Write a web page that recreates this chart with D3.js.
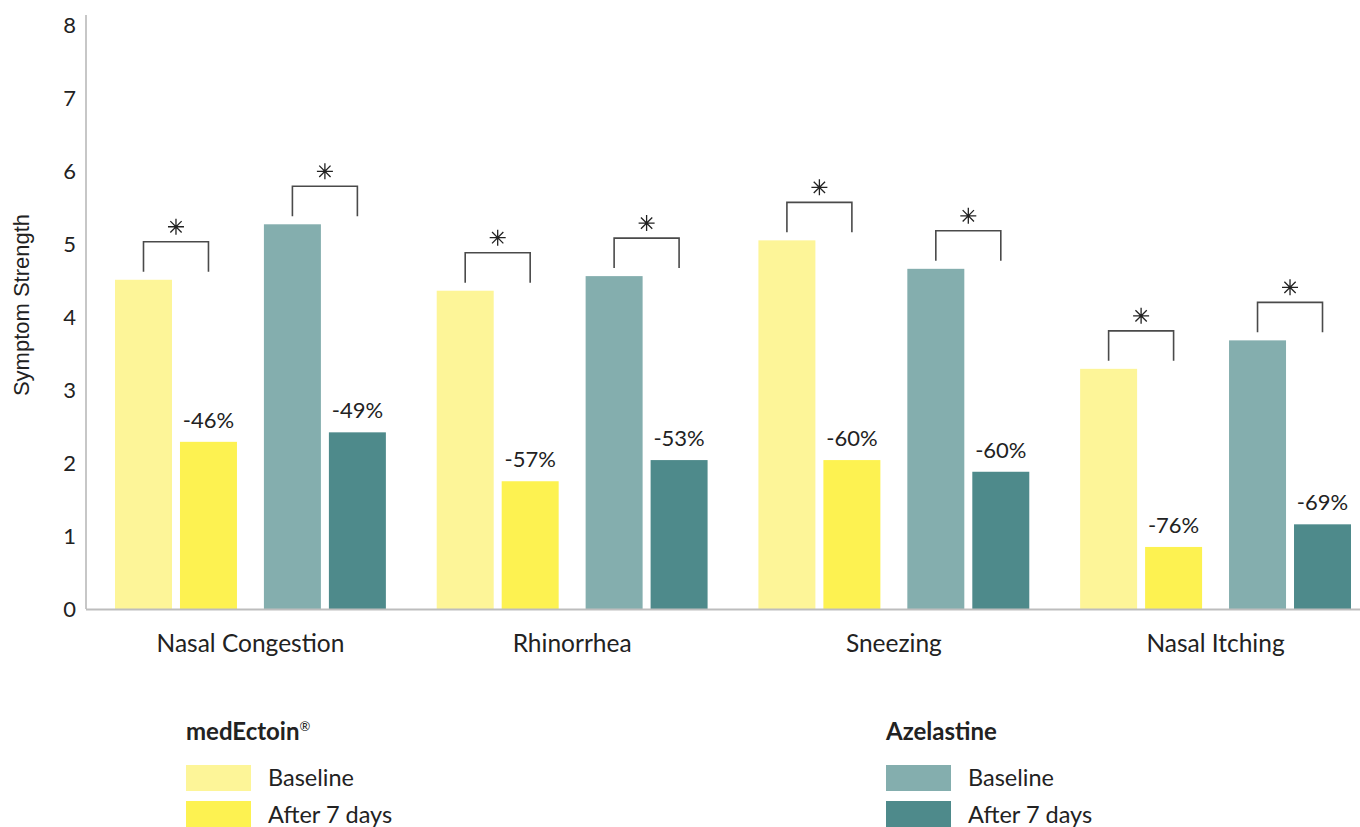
<!DOCTYPE html>
<html>
<head>
<meta charset="utf-8">
<script src="https://cdn.jsdelivr.net/npm/d3@7"></script>
<style>
  body { margin: 0; background: #fff; }
  text { font-family: Lato, "Open Sans", sans-serif; fill: #222; }
</style>
</head>
<body>
<div id="chart"></div>
<script>
const categories = ["Nasal Congestion", "Rhinorrhea", "Sneezing", "Nasal Itching"];
const medBaseline = [4.51, 4.36, 5.05, 3.29];
const medDay7 = [2.29, 1.75, 2.04, 0.85];
const azeBaseline = [5.27, 4.56, 4.66, 3.68];
const azeDay7 = [2.42, 2.04, 1.88, 1.16];
const medChange = ["-46%", "-57%", "-60%", "-76%"];
const azeChange = ["-49%", "-53%", "-60%", "-69%"];
const yTicks = [0, 1, 2, 3, 4, 5, 6, 7, 8];
const drugs = ["medEctoin®", "Azelastine"];
const times = ["Baseline", "After 7 days"];

const colors = {
  "medEctoin®": ["#fdf598", "#fdf251"],
  "Azelastine": ["#84aeae", "#4e8a8b"]
};

const width = 1360, height = 827;
const svg = d3.select("#chart").append("svg")
    .attr("width", width).attr("height", height);

let y = d3.scaleLinear().domain([0, 8]).range([609, 25]);
let x = d3.scaleBand().domain(categories).range([115, 1351]).paddingInner(0.158).paddingOuter(0);
let xDrug = d3.scaleBand().domain(drugs).range([0, x.bandwidth()]).paddingInner(0.181).paddingOuter(0);
let xTime = d3.scaleBand().domain(times).range([0, xDrug.bandwidth()]).paddingInner(0.123).paddingOuter(0);

// build rows from the arrays
let rows = [];
categories.forEach(function(c, i) {
  rows.push({cat: c, drug: drugs[0], base: medBaseline[i], after: medDay7[i], change: medChange[i]});
  rows.push({cat: c, drug: drugs[1], base: azeBaseline[i], after: azeDay7[i], change: azeChange[i]});
});

// y axis
let yAxis = svg.append("g")
    .attr("transform", "translate(86,0)")
    .call(d3.axisLeft(y).tickValues(yTicks).tickSize(0).tickPadding(10));
yAxis.select(".domain").attr("stroke", "#b5b5b5").attr("stroke-width", 1.5)
    .attr("d", "M0," + (y(8) - 10) + "V" + y(0));
yAxis.selectAll(".tick text")
    .style("font-size", "22px").style("font-family", "Lato, sans-serif").attr("fill", "#222");

svg.append("text")
    .attr("transform", "translate(29," + 305 + ") rotate(-90)")
    .attr("text-anchor", "middle")
    .style("font-size", "22px")
    .style("font-family", "'Liberation Sans', Arial, sans-serif")
    .attr("fill", "#555")
    .text("Symptom Strength");

// bars
let g = svg.append("g");
let groups = g.selectAll(".grp").data(rows).enter().append("g")
    .attr("transform", d => "translate(" + (x(d.cat) + xDrug(d.drug)) + ",0)");

groups.append("rect")
    .attr("x", xTime("Baseline"))
    .attr("y", d => y(d.base))
    .attr("width", xTime.bandwidth())
    .attr("height", d => y(0) - y(d.base))
    .attr("fill", d => colors[d.drug][0]);

groups.append("rect")
    .attr("x", xTime("After 7 days"))
    .attr("y", d => y(d.after))
    .attr("width", xTime.bandwidth())
    .attr("height", d => y(0) - y(d.after))
    .attr("fill", d => colors[d.drug][1]);

// percent labels
groups.append("text")
    .attr("x", xTime("After 7 days") + xTime.bandwidth() / 2)
    .attr("y", d => y(d.after) - 14)
    .attr("text-anchor", "middle")
    .style("font-size", "22px")
    .text(d => d.change);

// significance brackets
let bx0 = xTime("Baseline") + xTime.bandwidth() / 2;
let bx1 = xTime("After 7 days") + xTime.bandwidth() / 2;
groups.append("path")
    .attr("fill", "none")
    .attr("stroke", "#4a4a4a")
    .attr("stroke-width", 1.6)
    .attr("d", d => {
      let top = y(d.base) - 38, bot = y(d.base) - 8;
      return "M" + bx0 + "," + bot + "V" + top + "H" + bx1 + "V" + bot;
    });

// asterisks
groups.append("path")
    .attr("fill", "none")
    .attr("stroke", "#222")
    .attr("stroke-width", 1.3)
    .attr("transform", d => "translate(" + ((bx0 + bx1) / 2) + "," + (y(d.base) - 53) + ")")
    .attr("d", () => {
      let r = 8, q = r * Math.SQRT1_2, p = "";
      p += "M0," + (-r) + "V" + r;
      p += "M" + (-r) + ",0H" + r;
      p += "M" + (-q) + "," + (-q) + "L" + q + "," + q;
      p += "M" + (-q) + "," + q + "L" + q + "," + (-q);
      return p;
    });

// x axis
svg.append("line")
    .attr("x1", 86).attr("x2", width)
    .attr("y1", y(0) + 0.5).attr("y2", y(0) + 0.5)
    .attr("stroke", "#bdbdbd").attr("stroke-width", 2);

svg.selectAll(".cat").data(categories).enter().append("text")
    .attr("x", d => x(d) + x.bandwidth() / 2)
    .attr("y", 652)
    .attr("text-anchor", "middle")
    .style("font-size", "24.5px")
    .text(d => d);

// legend
let legendX = [186, 886];
drugs.forEach(function(dr, i) {
  let lg = svg.append("g").attr("transform", "translate(" + legendX[i] + ",0)");
  let t = lg.append("text").attr("x", 0).attr("y", 740)
      .style("font-size", "24px").style("font-weight", 700);
  if (dr === "medEctoin®") {
    t.append("tspan").text("medEctoin");
    t.append("tspan").text("®").style("font-size", "13px").style("font-weight", 400).attr("dy", -9);
  } else {
    t.text(dr);
  }
  times.forEach(function(tm, j) {
    lg.append("rect").attr("x", 0).attr("y", 765 + j * 36)
        .attr("width", 65).attr("height", 26).attr("fill", colors[dr][j]);
    lg.append("text").attr("x", 82).attr("y", 786 + j * 37)
        .style("font-size", "23.5px").text(tm);
  });
});
</script>
</body>
</html>
